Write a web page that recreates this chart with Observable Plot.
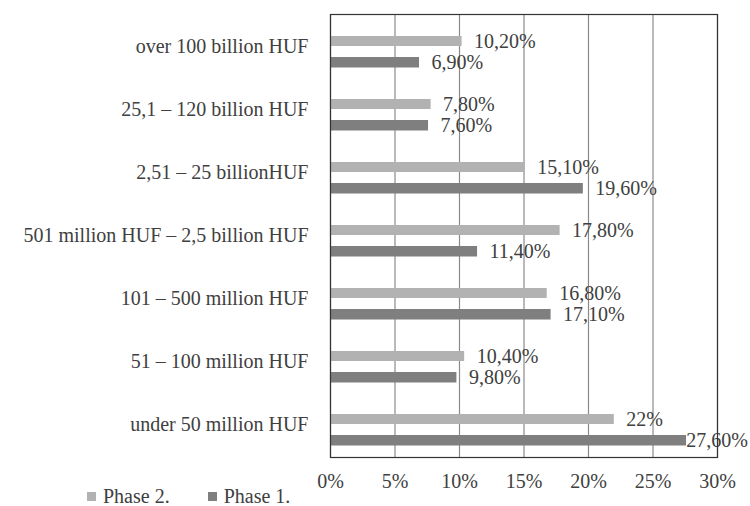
<!DOCTYPE html>
<html>
<head>
<meta charset="utf-8">
<script src="https://cdn.jsdelivr.net/npm/d3@7"></script>
<script src="https://cdn.jsdelivr.net/npm/@observablehq/plot@0.6"></script>
<style>
  body { margin: 0; background: #fff; font-family: "Liberation Serif", "Times New Roman", serif; }
  #chart { position: relative; width: 750px; height: 506px; overflow: hidden; }
  .legend { position: absolute; left: 87px; top: 485px; display: flex; align-items: center; font-size: 20px; line-height: 23px; color: #404040; }
  .legend span.sw { display: inline-block; width: 9px; height: 9px; margin-right: 7px; }
  .legend .item { display: flex; align-items: center; margin-right: 38px; }
</style>
</head>
<body>
<div id="chart"></div>
<script>
const categories = [
  "over 100 billion HUF",
  "25,1 – 120 billion HUF",
  "2,51 – 25 billionHUF",
  "501 million HUF – 2,5 billion HUF",
  "101 – 500 million HUF",
  "51 – 100 million HUF",
  "under 50 million HUF"
];
const phase2 = [10.2, 7.8, 15.1, 17.8, 16.8, 10.4, 22];
const phase1 = [6.9, 7.6, 19.6, 11.4, 17.1, 9.8, 27.6];
const xTicks = [0, 5, 10, 15, 20, 25, 30];
const seriesNames = ["Phase 2.", "Phase 1."];
const colors = ["#b2b2b2", "#7f7f7f"];

const fmt = v => (Number.isInteger(v) ? String(v) : v.toFixed(2).replace(".", ",")) + "%";

const p2 = categories.map((c, i) => ({category: c, value: phase2[i]}));
const p1 = categories.map((c, i) => ({category: c, value: phase1[i]}));

const font = "'Liberation Serif', 'Times New Roman', serif";

const plot = Plot.plot({
  width: 750,
  height: 488,
  marginLeft: 330,
  marginRight: 33,
  marginTop: 14,
  marginBottom: 31,
  style: {fontFamily: font, fontSize: "20px", color: "#404040", background: "#fff"},
  x: {domain: [0, 30], ticks: xTicks, tickFormat: d => d + "%", tickSize: 0, tickPadding: 16, label: null},
  y: {domain: categories, padding: 0, tickSize: 0, tickPadding: 22, label: null},
  marks: [
    Plot.ruleX(xTicks, {stroke: "#8a8a8a", strokeWidth: 1.2}),
    Plot.barX(p2, {x: "value", y: "category", fill: colors[0], insetTop: 21, insetBottom: 32}),
    Plot.barX(p1, {x: "value", y: "category", fill: colors[1], insetTop: 42, insetBottom: 10.5}),
    Plot.text(p2, {x: "value", y: "category", text: d => fmt(d.value), dx: 12, dy: -5, textAnchor: "start", fill: "#404040", fontSize: 20}),
    Plot.text(p1, {x: "value", y: "category", text: d => fmt(d.value), dx: 12, dy: 16, textAnchor: "start", fill: "#404040", fontSize: 20}),
    Plot.frame({stroke: "#333", strokeWidth: 1.2})
  ]
});
plot.style.overflow = "visible";
const chart = document.getElementById("chart");
chart.appendChild(plot);

// keep value labels inside the chart area (like the original's shifted label)
const svgLeft = plot.getBoundingClientRect().left;
plot.querySelectorAll("text").forEach(t => {
  const r = t.getBoundingClientRect();
  const right = r.right - svgLeft;
  if (right > 748) {
    const cur = parseFloat(t.getAttribute("dx") || "0") || 0;
    t.setAttribute("dx", cur - (right - 748));
  }
});

const legend = document.createElement("div");
legend.className = "legend";
seriesNames.forEach((n, i) => {
  const it = document.createElement("div");
  it.className = "item";
  const sw = document.createElement("span");
  sw.className = "sw";
  sw.style.background = colors[i];
  it.appendChild(sw);
  it.appendChild(document.createTextNode(n));
  legend.appendChild(it);
});
chart.appendChild(legend);
</script>
</body>
</html>
